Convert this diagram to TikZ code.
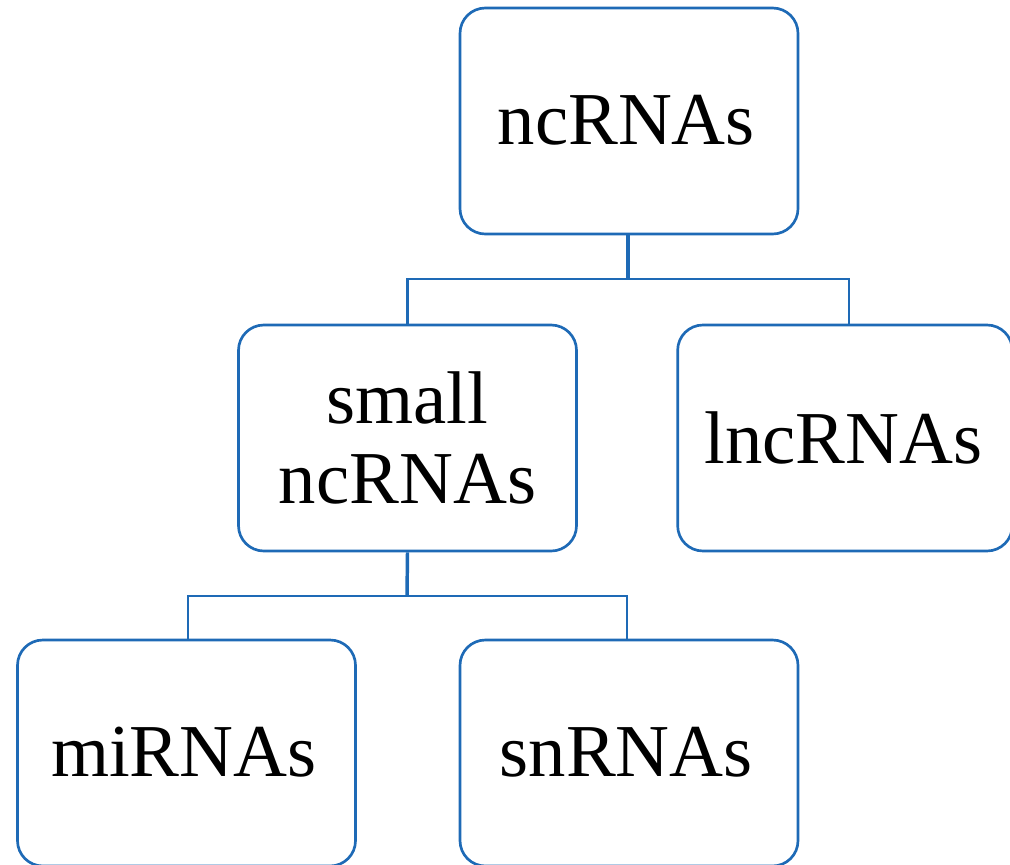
\documentclass[tikz,border=0pt]{standalone}
\usepackage{fontspec}
\setmainfont{Liberation Serif}
\definecolor{boxblue}{RGB}{30,106,182}
\begin{document}
\begin{tikzpicture}[x=0.75pt,y=-0.75pt,
  rnabox/.style={draw=boxblue,line width=2pt,rounded corners=19pt,fill=white,
    minimum width=253.5pt,minimum height=169.5pt,align=center,inner sep=0pt,
    font=\fontsize{56}{60}\selectfont},
  trunk/.style={draw=boxblue,line width=2.6pt},
  branch/.style={draw=boxblue,line width=1.9pt}]
\useasboundingbox (0,0) rectangle (1010,864);
\clip (0,0) rectangle (1010,864);
\coordinate (j1) at (628,279);
\coordinate (j2) at (407,596);
\node[rnabox] (nc) at (629,121) {\raisebox{2pt}{\kern-4pt ncRNAs}};
\node[rnabox] (small) at (407.5,438) {small\\ncRNAs};
\node[rnabox,minimum width=251pt] (lnc) at (845,438) {\raisebox{1pt}{\kern-2pt lncRNAs}};
\node[rnabox] (mi) at (186.5,753) {\raisebox{2pt}{\kern-4pt miRNAs}};
\node[rnabox] (sn) at (629,753) {\raisebox{2pt}{\kern-4pt snRNAs}};
\draw[trunk] (nc.south -| j1) -- (j1);
\draw[branch] (small.north) |- (j1) -| (lnc.north -| 849,0);
\draw[trunk] (small.south) -- (j2);
\draw[branch] (mi.north -| 188,0) |- (j2) -| (sn.north -| 627,0);
\end{tikzpicture}
\end{document}
